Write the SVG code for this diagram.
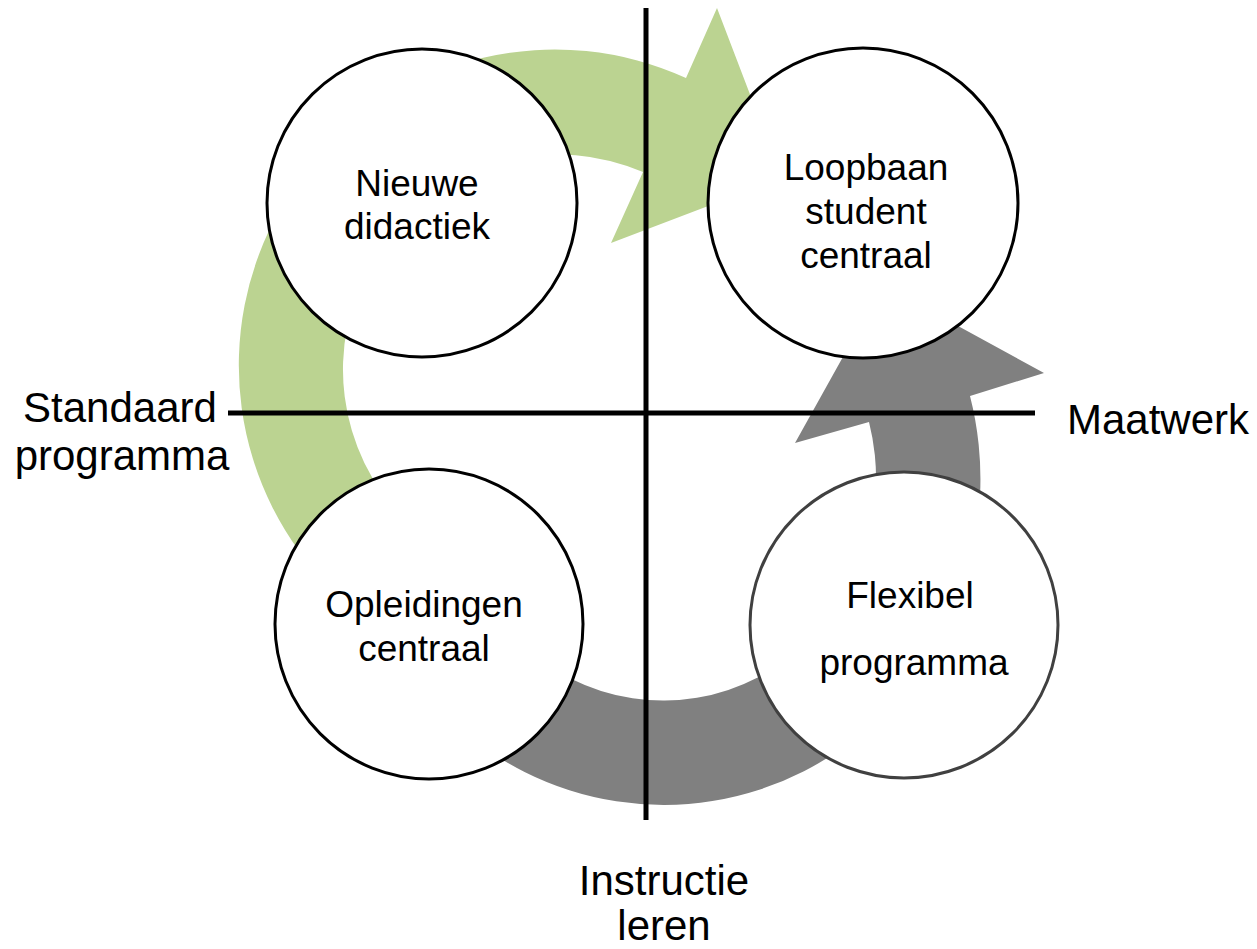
<svg xmlns="http://www.w3.org/2000/svg" width="1257" height="949" viewBox="0 0 1257 949">
<style>
text{font-family:"Liberation Sans",Arial,sans-serif;fill:#000;text-anchor:middle}
.node{font-size:37px}
.axis{font-size:42px}
.c{fill:#fff;stroke:#000;stroke-width:3}
.c2{fill:#fff;stroke:#404040;stroke-width:3}
.ln{stroke:#000;stroke-width:5;fill:none}
</style>
<g id="connectors">
<path id="green-arrow" fill="#BBD391" d="M 299,551 A 316 316 0 0 1 686,78 L 717,8 L 782,178 L 611,243 L 643,172 A 215 215 0 0 0 382,493 Z"/>
<path id="gray-arrow" fill="#808080" d="M 483,747 A 317 326 0 0 0 970,396 L 1044,373 L 883,285 L 795,443 L 869,422 A 213 222 0 0 1 543,662 Z"/>
</g>
<g id="axes">
<line class="ln" x1="646" y1="8" x2="646" y2="820"/>
<line class="ln" x1="228" y1="413" x2="1035" y2="413"/>
</g>
<g id="node-nieuwe">
<ellipse class="c" cx="422" cy="203" rx="155" ry="154"/>
<text class="node" x="417" y="196">Nieuwe</text>
<text class="node" x="417" y="239">didactiek</text>
</g>
<g id="node-loopbaan">
<ellipse class="c" cx="863" cy="203" rx="155" ry="155"/>
<text class="node" x="866" y="180">Loopbaan</text>
<text class="node" x="866" y="224">student</text>
<text class="node" x="866" y="268">centraal</text>
</g>
<g id="node-opleidingen">
<ellipse class="c" cx="429" cy="624" rx="154" ry="155"/>
<text class="node" x="424" y="617">Opleidingen</text>
<text class="node" x="424" y="661">centraal</text>
</g>
<g id="node-flexibel">
<ellipse class="c2" cx="904" cy="625" rx="154" ry="153"/>
<text class="node" x="910" y="608">Flexibel</text>
<text class="node" x="914" y="675">programma</text>
</g>
<g id="labels">
<text class="axis" x="120" y="422">Standaard</text>
<text class="axis" x="122" y="470">programma</text>
<text class="axis" x="1158" y="434">Maatwerk</text>
<text class="axis" x="664" y="895">Instructie</text>
<text class="axis" x="664" y="940">leren</text>
</g>
</svg>
